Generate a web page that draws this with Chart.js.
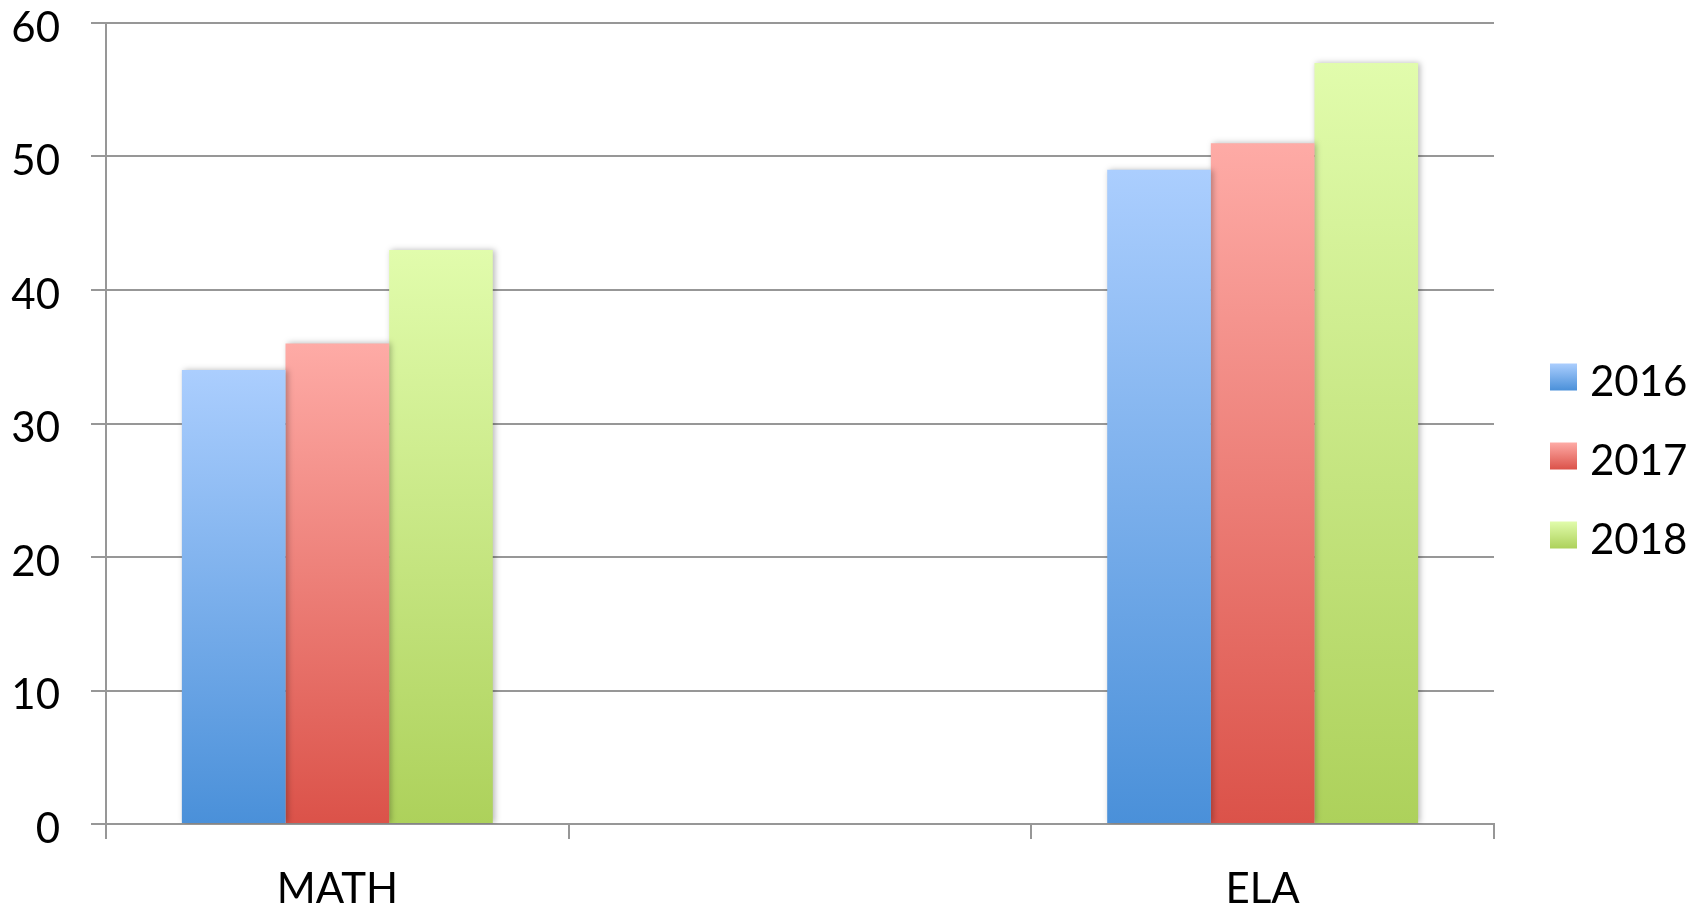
<!DOCTYPE html>
<html>
<head>
<meta charset="utf-8">
<script src="https://cdn.jsdelivr.net/npm/chart.js@4/dist/chart.umd.min.js"></script>
<style>
  html, body { margin: 0; padding: 0; background: #fff; }
  #wrap { width: 1698px; height: 908px; }
</style>
</head>
<body>
<div id="wrap"><canvas id="scoreChart" width="1698" height="908"></canvas></div>
<script>
// Scores by subject, three years side by side.
// The middle category is an empty slot, as in the original sheet.
const SUBJECTS = ["MATH", "", "ELA"];
const YEARS = ["2016", "2017", "2018"];
const SCORES_2016 = [34, null, 49];
const SCORES_2017 = [36, null, 51];
const SCORES_2018 = [43, null, 57];
const Y_TICKS = [0, 10, 20, 30, 40, 50, 60];

// top / bottom colour of each year's gradient
const FILLS = [
  ["#abcefe", "#4a90d9"],
  ["#feaba6", "#db5249"],
  ["#e1fcac", "#add15b"],
];

const FONT = "Lato, 'Open Sans', sans-serif";
const GRID = "#979797";

function barGradient(i) {
  const [top, bottom] = FILLS[i];
  return (ctx) => {
    const chart = ctx.chart;
    const y = chart.scales.y;
    if (!y || ctx.type !== "data" || !ctx.parsed) return bottom;
    const y0 = y.getPixelForValue(ctx.parsed.y);
    const y1 = y.getPixelForValue(0);
    if (!isFinite(y0) || !isFinite(y1) || y0 === y1) return bottom;
    const g = chart.ctx.createLinearGradient(0, y0, 0, y1);
    g.addColorStop(0, top);
    g.addColorStop(1, bottom);
    return g;
  };
}

// soft shadow behind the bars
const barShadow = {
  id: "barShadow",
  beforeDatasetsDraw(chart) {
    const c = chart.ctx;
    c.save();
    c.shadowColor = "rgba(0,0,0,0.28)";
    c.shadowBlur = 6;
    c.shadowOffsetX = 2;
    c.shadowOffsetY = 0;
  },
  afterDatasetsDraw(chart) {
    chart.ctx.restore();
  },
};

// legend on the right, gradient swatches like the bars
const sideLegend = {
  id: "sideLegend",
  afterDraw(chart) {
    const c = chart.ctx;
    const boxX = 1550, box = 27, textX = 1590;
    const rows = [377, 456, 535];
    c.save();
    c.font = "42px " + FONT;
    c.textBaseline = "middle";
    chart.data.datasets.forEach((ds, i) => {
      const cy = rows[i];
      const g = c.createLinearGradient(0, cy - box / 2, 0, cy + box / 2);
      g.addColorStop(0, FILLS[i][0]);
      g.addColorStop(1, FILLS[i][1]);
      c.fillStyle = g;
      c.fillRect(boxX, cy - box / 2, box, box);
      c.fillStyle = "#000";
      c.fillText(ds.label, textX, cy + 5);
    });
    c.restore();
  },
};

const seriesValues = [SCORES_2016, SCORES_2017, SCORES_2018];

new Chart(document.getElementById("scoreChart"), {
  type: "bar",
  data: {
    labels: SUBJECTS,
    datasets: YEARS.map((year, i) => ({
      label: year,
      data: seriesValues[i],
      backgroundColor: barGradient(i),
      borderWidth: 0,
      categoryPercentage: 0.672,
      barPercentage: 1,
    })),
  },
  options: {
    responsive: false,
    animation: false,
    layout: { padding: { left: 0, right: 204, top: 23, bottom: 0 } },
    plugins: {
      legend: { display: false },
      tooltip: { enabled: false },
    },
    scales: {
      x: {
        offset: true,
        afterFit(scale) {
          scale.height = 84;
          scale.paddingLeft = 0;
          scale.paddingRight = 0;
        },
        grid: {
          offset: true,
          drawOnChartArea: false,
          drawTicks: true,
          tickLength: 15,
          color: GRID,
          lineWidth: 2,
        },
        border: { display: true, color: GRID, width: 2 },
        ticks: {
          color: "#000",
          font: { family: FONT, size: 42 },
          padding: 25,
          maxRotation: 0,
        },
      },
      y: {
        min: 0,
        max: 60,
        afterBuildTicks(scale) {
          scale.ticks = Y_TICKS.map((v) => ({ value: v }));
        },
        afterFit(scale) {
          scale.width = 106;
          scale.paddingTop = 0;
          scale.paddingBottom = 0;
        },
        grid: {
          color: GRID,
          lineWidth: 2,
          drawTicks: true,
          tickLength: 15,
        },
        border: { display: true, color: GRID, width: 2 },
        ticks: {
          color: "#000",
          font: { family: FONT, size: 42 },
          padding: 31,
          labelOffset: 5,
        },
      },
    },
  },
  plugins: [barShadow, sideLegend],
});
</script>
</body>
</html>
